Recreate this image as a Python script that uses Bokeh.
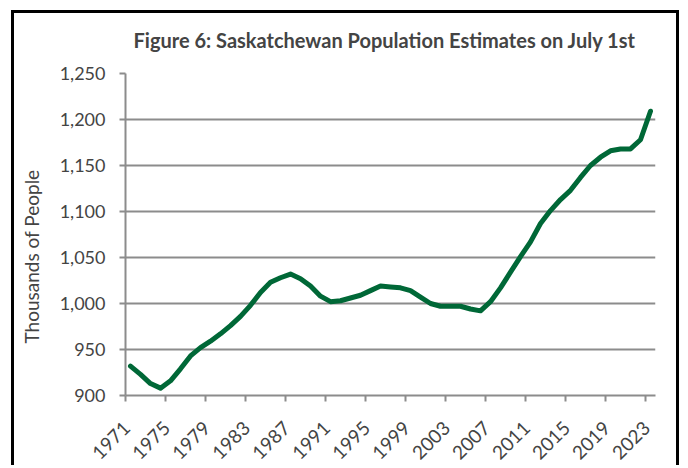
from bokeh.plotting import figure
from bokeh.models import FixedTicker, NumeralTickFormatter, Range1d, ColumnDataSource, LinearAxis, Title
from bokeh.embed import file_html
from bokeh.resources import INLINE
import math

years = list(range(1971, 2024))
population = [932, 923, 913, 908, 916, 929, 943, 952, 959, 967,
              976, 986, 998, 1012, 1023, 1028, 1032, 1027, 1019, 1008,
              1002, 1003, 1006, 1009, 1014, 1019, 1018, 1017, 1014, 1007,
              1000, 997, 997, 997, 994, 992, 1002, 1017, 1034, 1051,
              1067, 1087, 1101, 1113, 1123, 1137, 1150, 1159, 1166, 1168,
              1168, 1178, 1209]
x_tick_labels = ["1971", "1975", "1979", "1983", "1987", "1991", "1995",
                 "1999", "2003", "2007", "2011", "2015", "2019", "2023"]
y_ticks = [900, 950, 1000, 1050, 1100, 1150, 1200, 1250]

FONT = "Lato"
GRID = "#8c8c8c"

src = ColumnDataSource(data=dict(year=years, pop=population))

p = figure(width=668, height=455, output_backend="svg", toolbar_location=None,
           x_range=Range1d(1970.5, 2023.5), y_range=Range1d(900, 1250),
           x_axis_location=None,
           min_border_left=111, min_border_right=27, min_border_top=60,
           min_border_bottom=73, background_fill_color="white",
           border_fill_color="white")
p.outline_line_color = None
p.styles = {"margin-left": "11px", "margin-top": "10px",
            "border-left": "3px solid black", "border-top": "3px solid black",
            "border-right": "3px solid black"}


def spacer_axis(size, at):
    # blank (white-on-white) axis used only to reserve space in a side panel
    return LinearAxis(ticker=FixedTicker(ticks=[at]), major_tick_out=size,
                      major_tick_in=0, major_tick_line_color="white",
                      minor_tick_line_color=None, axis_line_color=None,
                      major_label_overrides={at: ""},
                      major_label_text_font_size="1px",
                      major_label_standoff=0)


p.title.text = "Figure 6: Saskatchewan Population Estimates on July 1st"
p.title.text_font = FONT
p.title.text_font_style = "bold"
p.title.text_font_size = "20px"
p.title.align = "left"
p.title.offset = 8
p.title.standoff = 0
p.add_layout(spacer_axis(22, 1970.5), "above")

p.line("year", "pop", source=src, line_color="#006837", line_width=5,
       line_join="round", line_cap="round")

# axis carrying the tick marks at category boundaries
boundaries = [int(t) - 0.5 for t in x_tick_labels]
tick_axis = LinearAxis(ticker=FixedTicker(ticks=boundaries),
                       major_label_overrides={b: "" for b in boundaries},
                       major_label_text_font_size="1px",
                       major_label_standoff=0,
                       axis_line_color=GRID, axis_line_width=2,
                       major_tick_line_color=GRID, major_tick_line_width=2,
                       major_tick_out=6, major_tick_in=0,
                       minor_tick_line_color=None)
p.add_layout(tick_axis, "below")

# axis carrying the year labels next to the category centres
label_pos = [int(t) - 0.4 for t in x_tick_labels]
label_axis = LinearAxis(ticker=FixedTicker(ticks=label_pos),
                        major_label_overrides={lp: lab for lp, lab in zip(label_pos, x_tick_labels)},
                        major_label_orientation=math.pi / 4,
                        major_label_text_font=FONT,
                        major_label_text_font_size="19px",
                        major_label_standoff=17,
                        axis_line_color=None, major_tick_line_color=None,
                        minor_tick_line_color=None)
p.add_layout(label_axis, "below")

p.yaxis.ticker = FixedTicker(ticks=y_ticks)
p.yaxis.formatter = NumeralTickFormatter(format="0,0")
p.yaxis.major_label_text_font = FONT
p.yaxis.major_label_text_font_size = "18px"
p.yaxis.major_label_standoff = 14
p.yaxis.axis_line_color = GRID
p.yaxis.axis_line_width = 2
p.yaxis.major_tick_line_color = GRID
p.yaxis.major_tick_line_width = 2
p.yaxis.major_tick_out = 6
p.yaxis.major_tick_in = 0
p.yaxis.minor_tick_line_color = None

# y-axis title, placed like the reference (not centred on the frame)
p.add_layout(spacer_axis(14, 900), "left")
ytitle = Title(text="Thousands of People", text_font=FONT,
               text_font_style="normal", text_font_size="19px",
               align="left", offset=52, standoff=0)
p.add_layout(ytitle, "left")

p.xgrid.grid_line_color = None
p.ygrid.grid_line_color = GRID
p.ygrid.grid_line_width = 2

open("out.html", "w").write(file_html(p, INLINE))
